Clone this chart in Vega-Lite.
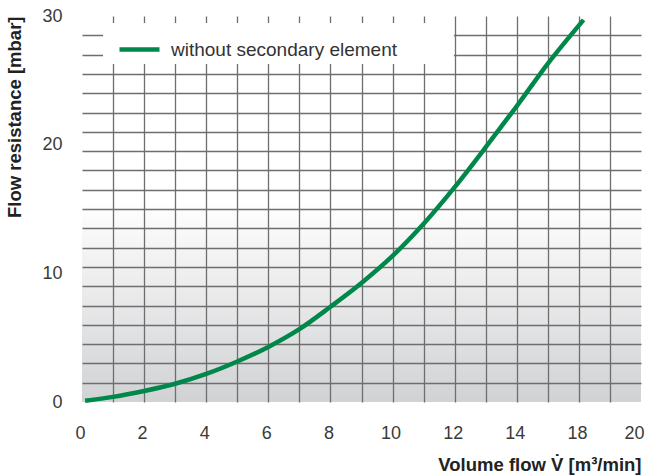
{
  "$schema": "https://vega.github.io/schema/vega-lite/v6.json",
  "width": 559,
  "height": 386,
  "autosize": "none",
  "padding": {"left": 82, "top": 16, "right": 7, "bottom": 74},
  "background": "#ffffff",
  "config": {
    "view": {
      "stroke": null,
      "fill": {"gradient": "linear", "x1": 0, "y1": 0, "x2": 0, "y2": 1,
        "stops": [{"offset": 0, "color": "#ffffff"}, {"offset": 0.48, "color": "#ffffff"}, {"offset": 1, "color": "#d1d2d4"}]}
    },
    "font": "Liberation Sans"
  },
  "data": {
    "values": [
      {"flow": 0.1, "resistance": 0.1, "series": "without secondary element"},
      {"flow": 1, "resistance": 0.4, "series": "without secondary element"},
      {"flow": 2, "resistance": 0.86, "series": "without secondary element"},
      {"flow": 3, "resistance": 1.42, "series": "without secondary element"},
      {"flow": 4, "resistance": 2.18, "series": "without secondary element"},
      {"flow": 5, "resistance": 3.15, "series": "without secondary element"},
      {"flow": 6, "resistance": 4.28, "series": "without secondary element"},
      {"flow": 7, "resistance": 5.66, "series": "without secondary element"},
      {"flow": 8, "resistance": 7.4, "series": "without secondary element"},
      {"flow": 9, "resistance": 9.25, "series": "without secondary element"},
      {"flow": 10, "resistance": 11.35, "series": "without secondary element"},
      {"flow": 11, "resistance": 13.85, "series": "without secondary element"},
      {"flow": 12, "resistance": 16.7, "series": "without secondary element"},
      {"flow": 13, "resistance": 19.8, "series": "without secondary element"},
      {"flow": 14, "resistance": 23.0, "series": "without secondary element"},
      {"flow": 16, "resistance": 26.3, "series": "without secondary element"},
      {"flow": 18.15, "resistance": 29.7, "series": "without secondary element"}
    ]
  },
  "encoding": {
    "x": {
      "type": "quantitative",
      "scale": {"domain": [0, 14, 18, 20], "range": [0, 434.8, 496.9, 559], "nice": false, "zero": false},
      "axis": {
        "title": "Volume flow V̇ [m³/min]",
        "titleAnchor": "end",
        "titleFont": "Liberation Sans",
        "titleFontSize": 18.5,
        "titleFontWeight": "bold",
        "titleColor": "#222222",
        "titlePadding": 13,
        "values": [0, 1, 2, 3, 4, 5, 6, 7, 8, 9, 10, 11, 12, 13, 14, 16, 18, 19, 20],
        "labelExpr": "(datum.value % 2 == 0 && datum.value != 16) ? datum.label : ''",
        "labelOverlap": false,
        "labelFlush": false,
        "labelFont": "Liberation Sans",
        "labelFontSize": 18,
        "labelColor": "#3a3a3a",
        "labelPadding": 22,
        "labelOffset": {"condition": {"test": "datum.value == 20", "value": -7}, "value": -2},
        "ticks": false,
        "domain": false,
        "grid": true,
        "gridColor": "#6e6e6e",
        "gridWidth": 1.3,
        "gridOpacity": {"condition": {"test": "datum.value == 0 || datum.value == 20", "value": 0}, "value": 1}
      }
    },
    "y": {
      "type": "quantitative",
      "scale": {"domain": [0, 30], "nice": false, "zero": false},
      "axis": {
        "title": "Flow resistance [mbar]",
        "titleAnchor": "end",
        "titleFont": "Liberation Sans",
        "titleFontSize": 18.5,
        "titleFontWeight": "bold",
        "titleColor": "#222222",
        "titlePadding": 17,
        "values": [0, 1.5, 3, 4.5, 6, 7.5, 9, 10, 10.5, 12, 13.5, 15, 16.5, 18, 19.5, 20, 21, 22.5, 24, 25.5, 27, 28.5, 30],
        "labelExpr": "datum.value % 10 == 0 ? datum.label : ''",
        "labelOverlap": false,
        "labelFlush": false,
        "labelFont": "Liberation Sans",
        "labelFontSize": 18,
        "labelColor": "#3a3a3a",
        "labelPadding": 20,
        "ticks": false,
        "domain": false,
        "grid": true,
        "gridColor": "#6e6e6e",
        "gridWidth": 1.3,
        "gridOpacity": {"condition": {"test": "datum.value % 10 == 0", "value": 0}, "value": 1}
      }
    }
  },
  "layer": [
    {
      "mark": {"type": "rect", "fill": "#ffffff"},
      "encoding": {
        "x": {"datum": 0.7, "type": "quantitative"},
        "x2": {"datum": 11.95},
        "y": {"datum": 26.3, "type": "quantitative"},
        "y2": {"datum": 29.4}
      }
    },
    {
      "mark": {"type": "line", "strokeWidth": 4.5, "interpolate": "monotone", "strokeCap": "butt"},
      "encoding": {
        "x": {"field": "flow", "type": "quantitative"},
        "y": {"field": "resistance", "type": "quantitative"},
        "color": {
          "field": "series",
          "type": "nominal",
          "scale": {"range": ["#00884a"]},
          "legend": {
            "orient": "none",
            "legendX": 35,
            "legendY": 11,
            "title": null,
            "padding": 0,
            "symbolType": "stroke",
            "symbolSize": 1600,
            "symbolStrokeWidth": 4.5,
            "labelOffset": 9,
            "labelLimit": 400,
            "labelFont": "Liberation Sans",
            "labelFontSize": 19,
            "labelColor": "#333333"
          }
        }
      }
    }
  ]
}
